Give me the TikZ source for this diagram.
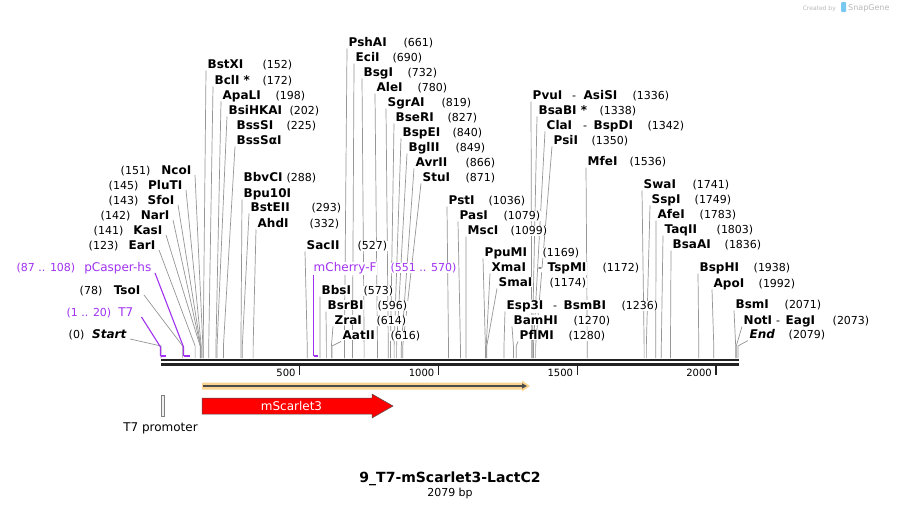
\documentclass[tikz,border=0pt]{standalone}
\usepackage{fontspec}
\setmainfont{DejaVu Sans}
\usetikzlibrary{calc,arrows.meta}
\pgfdeclarelayer{back}
\pgfdeclarelayer{bg}
\pgfsetlayers{back,bg,main}
\definecolor{prim}{RGB}{160,50,240}
\definecolor{lin}{RGB}{150,150,150}
\definecolor{bbc}{RGB}{35,35,35}
\definecolor{orfc}{RGB}{251,212,145}
\definecolor{wm}{RGB}{185,185,185}
\definecolor{wmb}{RGB}{120,200,240}
\tikzset{
  enz/.style={font=\fontsize{12}{12}\selectfont\bfseries, inner sep=0.5pt, fill=white, anchor=base west},
  num/.style={font=\fontsize{11}{11}\selectfont, inner sep=0.5pt, fill=white, anchor=base west},
  pnum/.style={num, text=prim},
  pname/.style={font=\fontsize{12}{12}\selectfont, inner sep=0.5pt, fill=white, text=prim, anchor=base west},
  conn/.style={draw=lin, line width=0.7pt},
  pconn/.style={draw=prim, line width=1.1pt},
  pbar/.style={draw=prim, line width=2pt},
  bbline/.style={draw=bbc, line width=2.7pt},
  tickm/.style={draw=bbc, line width=1.3pt},
  ticklab/.style={font=\fontsize{10}{10}\selectfont, inner sep=0pt, anchor=base east},
}
% right-side label: id, name x, centre y, name, number x, bp
\newcommand\EnzR[6]{%
  \node[enz] (#1) at (#2,#3+4.5) {#4};
  \node[num] (#1n) at (#5,#3+4.5) {(#6)};
  \coordinate (#1t) at (#2-1,#3+6.5);
  \coordinate (#1k) at ({161+0.2775*#6},346);
  \coordinate (#1s) at ({161+0.2775*#6},358);
  \begin{pgfonlayer}{bg}\draw[conn] (#1t) -- (#1k) -- (#1s);\end{pgfonlayer}
}
% text only (shares a line with the next label)
\newcommand\EnzT[6]{%
  \node[enz] (#1) at (#2,#3+4.5) {#4};
  \node[num] (#1n) at (#5,#3+4.5) {(#6)};
}
% name only with line
\newcommand\EnzO[5]{%
  \node[enz] (#1) at (#2,#3+4.5) {#4};
  \coordinate (#1t) at (#2-1,#3+6.5);
  \coordinate (#1k) at ({161+0.2775*#5},346);
  \coordinate (#1s) at ({161+0.2775*#5},358);
  \begin{pgfonlayer}{bg}\draw[conn] (#1t) -- (#1k) -- (#1s);\end{pgfonlayer}
}
% second name of a pair: id, dash x, name x, y, name
\newcommand\EnzB[5]{%
  \node[num] (#1d) at (#2,#4+4.5) {-};
  \node[enz] (#1b) at (#3,#4+4.5) {#5};
}
% left-side label: id, name right x, centre y, name, number right x, bp
\newcommand\EnzL[6]{%
  \node[enz,anchor=base east] (#1) at (#2,#3+4.5) {#4};
  \node[num,anchor=base east] (#1n) at (#5,#3+4.5) {(#6)};
  \coordinate (#1t) at (#2+3,#3+5);
  \coordinate (#1k) at ({161+0.2775*#6},346);
  \coordinate (#1s) at ({161+0.2775*#6},358);
  \begin{pgfonlayer}{bg}\draw[conn] (#1t) -- (#1k) -- (#1s);\end{pgfonlayer}
}
\begin{document}
\begin{tikzpicture}[x=1pt,y=-1pt]
\begin{pgfonlayer}{back}
\fill[white] (0,0) rectangle (899,509);
\end{pgfonlayer}
\useasboundingbox (0,0) rectangle (899,509);

% watermark
\node[font=\fontsize{6}{6}\selectfont, text=wm, inner sep=0pt, anchor=base east] (wm1) at (836,10) {Created by};
\fill[wmb, rounded corners=1pt] (841,2) rectangle (846,12);
\node[font=\fontsize{8}{8}\selectfont, text=wm, inner sep=0pt, anchor=base west] (wm2) at (848,10.5) {SnapGene};

% backbone
\coordinate (b0) at (161,360);
\coordinate (b1) at (739,360);
\coordinate (c0) at (161,364.3);
\coordinate (c1) at (739,364.3);
\draw[bbline] (b0) -- (b1);
\draw[bbline] (c0) -- (c1);

% ticks
\foreach \v/\n in {500/t5,1000/t10,1500/t15,2000/t20}{
  \coordinate (\n a) at ({161+0.2775*\v},366);
  \coordinate (\n b) at ({161+0.2775*\v},375);
  \draw[tickm] (\n a) -- (\n b);
  \node[ticklab] (\n l) at ({161+0.2775*\v-4},376) {\v};
}

% left labels
\EnzL{ncoi}{192}{170}{NcoI}{151}{151}
\EnzL{pluti}{183}{185}{PluTI}{139}{145}
\EnzL{sfoi}{175}{200}{SfoI}{139}{143}
\EnzL{nari}{170}{215}{NarI}{131}{142}
\EnzL{kasi}{163}{230}{KasI}{124}{141}
\EnzL{eari}{156}{245}{EarI}{119}{123}
\EnzL{tsoi}{141}{290}{TsoI}{103}{78}
\EnzL{start}{127}{334}{\itshape Start}{85}{0}

% primers / small features
\node[pname,anchor=base east] (pcas) at (152,271.5) {pCasper-hs};
\node[pnum,anchor=base east] (pcasn) at (76,271.5) {(87 .. 108)};
\coordinate (pcast) at (155,273);
\coordinate (pcask) at (183.5,347);
\coordinate (pcass) at (183.5,356);
\coordinate (pcase) at (189.5,356);
\begin{pgfonlayer}{bg}\draw[pconn] (pcast) -- (pcask) -- (pcass);\draw[pbar] (pcass) -- (pcase);\end{pgfonlayer}

\node[pname,anchor=base east] (t7) at (134,316.5) {T7};
\node[pnum,anchor=base east] (t7n) at (112,316.5) {(1 .. 20)};
\coordinate (t7t) at (141.5,317);
\coordinate (t7k) at (160.5,347);
\coordinate (t7s) at (160.5,356);
\coordinate (t7e) at (166,356);
\begin{pgfonlayer}{bg}\draw[pconn] (t7t) -- (t7k) -- (t7s);\draw[pbar] (t7s) -- (t7e);\end{pgfonlayer}

\node[pname] (mch) at (313,271.5) {mCherry-F};
\node[pnum] (mchn) at (390,271.5) {(551 .. 570)};
\coordinate (mcht) at (313.5,274);
\coordinate (mchs) at (313.5,356);
\coordinate (mche) at (318,356);
\begin{pgfonlayer}{bg}\draw[pconn] (mcht) -- (mchs);\draw[pbar] (mchs) -- (mche);\end{pgfonlayer}

% group 1
\EnzR{bstxi}{207}{64}{BstXI}{262}{152}
\EnzR{bcli}{214}{80}{BclI *}{262}{172}
\EnzR{apali}{222}{95}{ApaLI}{275}{198}
\EnzR{bsihkai}{228}{110}{BsiHKAI}{289}{202}
\EnzT{bsssi}{236}{125}{BssSI}{286}{225}
\EnzO{bsssai}{236}{140}{BssSαI}{225}
\EnzT{bbvci}{243}{177}{BbvCI}{286}{288}
\EnzO{bpu}{243}{193}{Bpu10I}{288}
\EnzR{bsteii}{250}{207}{BstEII}{311}{293}
\EnzR{ahdi}{257}{223}{AhdI}{309}{332}

% group 2
\EnzR{pshai}{348}{42}{PshAI}{403}{661}
\EnzR{ecii}{355}{57}{EciI}{392}{690}
\EnzR{bsgi}{363}{72}{BsgI}{407}{732}
\EnzR{alei}{376}{87}{AleI}{417}{780}
\EnzR{sgrai}{387}{102}{SgrAI}{441}{819}
\EnzR{bseri}{395}{117}{BseRI}{447}{827}
\EnzR{bspei}{402}{132}{BspEI}{452}{840}
\EnzR{bglii}{408}{147}{BglII}{455}{849}
\EnzR{avrii}{415}{162}{AvrII}{465}{866}
\EnzR{stui}{422}{177}{StuI}{465}{871}

% middle lower
\EnzR{sacii}{306}{245}{SacII}{357}{527}
\EnzR{bbsi}{321}{290}{BbsI}{363}{573}
\EnzR{bsrbi}{327}{305}{BsrBI}{377}{596}
\EnzR{zrai}{334}{320}{ZraI}{376}{614}
\EnzR{aatii}{342}{335}{AatII}{390}{616}

% right middle
\EnzR{psti}{448}{200}{PstI}{488}{1036}
\EnzR{pasi}{459}{215}{PasI}{503}{1079}
\EnzR{msci}{467}{230}{MscI}{510}{1099}
\EnzR{ppumi}{484}{252}{PpuMI}{542}{1169}
\EnzR{xmai}{491}{267}{XmaI}{602}{1172}
\EnzB{xmai}{537.5}{547}{267}{TspMI}
\EnzR{smai}{498}{282}{SmaI}{549}{1174}
\EnzR{esp}{506}{305}{Esp3I}{621}{1236}
\EnzB{esp}{552.5}{563}{305}{BsmBI}
\EnzR{bamhi}{513}{320}{BamHI}{573}{1270}
\EnzR{pflmi}{519}{335}{PflMI}{568}{1280}
\EnzR{pvui}{532}{95}{PvuI}{632}{1336}
\EnzB{pvui}{571.5}{583}{95}{AsiSI}
\EnzR{bsabi}{538}{110}{BsaBI *}{599}{1338}
\EnzR{clai}{546}{125}{ClaI}{647}{1342}
\EnzB{clai}{582.5}{593}{125}{BspDI}
\EnzR{psii}{553}{140}{PsiI}{591}{1350}
\EnzR{mfei}{587}{161}{MfeI}{629}{1536}

% right
\EnzR{swai}{643}{184}{SwaI}{692}{1741}
\EnzR{sspi}{651}{199}{SspI}{694}{1749}
\EnzR{afei}{657}{214}{AfeI}{699}{1783}
\EnzR{taqii}{664}{229}{TaqII}{716}{1803}
\EnzR{bsaai}{672}{244}{BsaAI}{724}{1836}
\EnzR{bsphi}{699}{267}{BspHI}{753}{1938}
\EnzR{apoi}{713}{283}{ApoI}{758}{1992}
\EnzR{bsmi}{735}{304}{BsmI}{784}{2071}
\EnzR{noti}{743}{320}{NotI}{832}{2073}
\EnzB{noti}{775.5}{785}{320}{EagI}
\EnzR{endl}{749}{334}{\itshape End}{788}{2079}

% ORF arrow
\fill[orfc] (202,382.5) -- (522,382.5) -- (522,380.5) -- (530,386) -- (522,391.5) -- (522,389.5) -- (202,389.5) -- cycle;
\coordinate (orf0) at (203,386);
\coordinate (orf1) at (527,386);
\draw[draw=black!70, line width=1.3pt, -{Triangle[length=5pt,width=5pt]}] (orf0) -- (orf1);

% mScarlet3 feature
\draw[fill=red, draw=black!70, line width=0.5pt] (202,398) -- (372,398) -- (372,394) -- (393,406) -- (372,418) -- (372,414) -- (202,414) -- cycle;
\node[font=\fontsize{12}{12}\selectfont, text=white, inner sep=0pt] (msc) at (291.5,406) {mScarlet3};

% T7 promoter
\draw[draw=gray, fill=gray!12, line width=0.5pt] (161,395) rectangle (164,416);
\node[font=\fontsize{12}{12}\selectfont, inner sep=0pt] (t7p) at (160.5,428) {T7 promoter};

% title
\node[font=\fontsize{14}{14}\selectfont\bfseries, inner sep=0pt] (title) at (450,479) {9\_T7-mScarlet3-LactC2};
\node[font=\fontsize{11}{11}\selectfont, inner sep=0pt] (len) at (450,493) {2079 bp};
\end{tikzpicture}
\end{document}
